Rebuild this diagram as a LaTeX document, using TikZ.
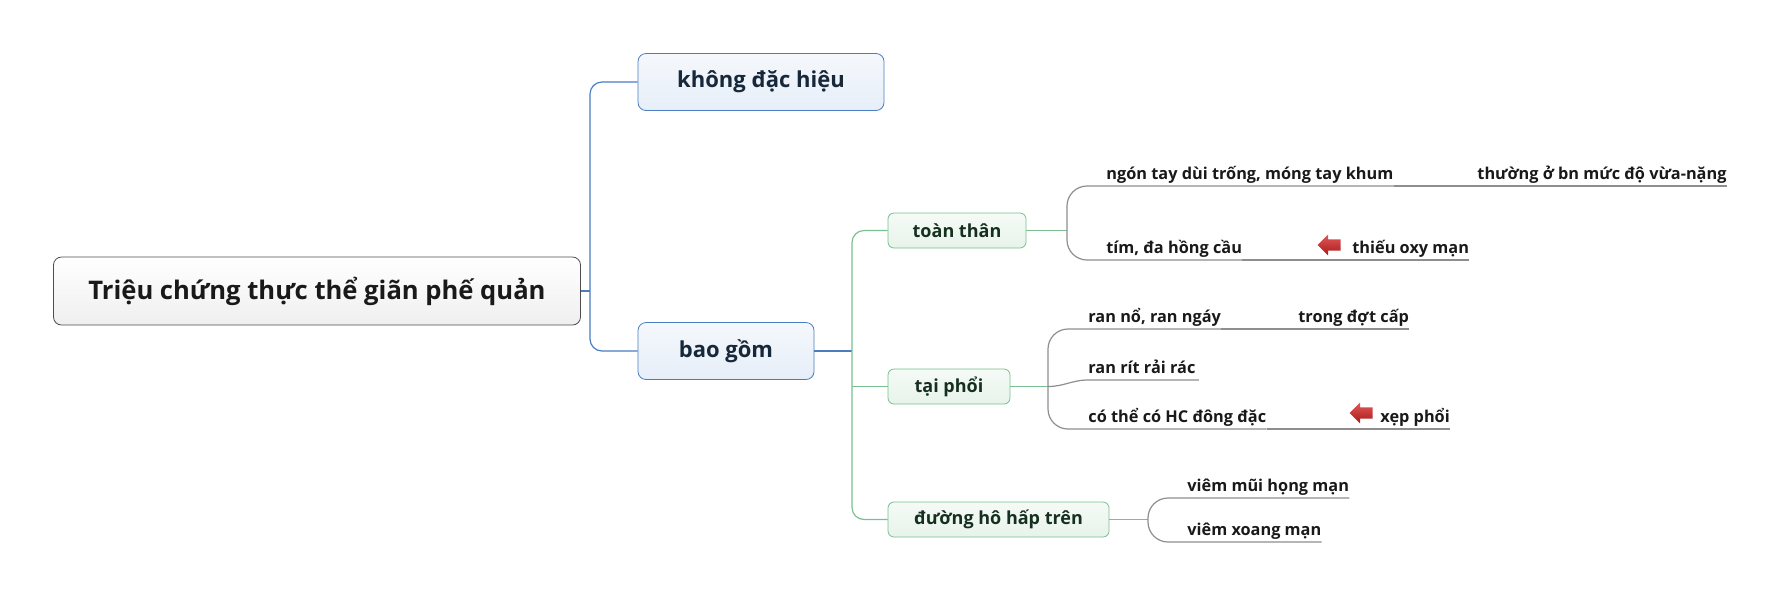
\documentclass[tikz,border=0pt]{standalone}
\usepackage{fontspec}
\setmainfont{Open Sans}
\usetikzlibrary{shapes.arrows}

\definecolor{rootline}{HTML}{4D4D4D}
\definecolor{rootfill}{HTML}{EFEFEF}
\definecolor{blueline}{HTML}{4A7DC0}
\definecolor{bluefill}{HTML}{E6EEF8}
\definecolor{bluetext}{HTML}{17283A}
\definecolor{greenline}{HTML}{78C08F}
\definecolor{greenfill}{HTML}{E7F3EA}
\definecolor{greentext}{HTML}{16301F}
\definecolor{greyline}{HTML}{8E8E8E}
\definecolor{warnred}{HTML}{D62020}

\begin{document}
\begin{tikzpicture}[x=0.5pt,y=-0.5pt,
  rootbox/.style={draw=rootline, rounded corners=4pt, top color=white, bottom color=rootfill,
    minimum height=34pt, text=black!90, font=\fontsize{12.8}{15}\selectfont\bfseries},
  mainbox/.style={draw=blueline, rounded corners=4pt, top color=bluefill!40, bottom color=bluefill,
    minimum height=28.5pt, text=bluetext, font=\fontsize{11}{13}\selectfont\bfseries},
  subbox/.style={draw=greenline, rounded corners=3pt, top color=greenfill!40, bottom color=greenfill,
    minimum height=17.5pt, text=greentext, font=\fontsize{9}{11}\selectfont\bfseries},
  leaf/.style={anchor=south west, inner xsep=0pt, inner ysep=3pt, text depth=0pt,
    text=black!90, font=\fontsize{8.15}{10}\selectfont\bfseries},
  warn/.style={single arrow, shape border rotate=180, draw=none, inner xsep=0pt, inner ysep=2.6pt,
    minimum height=11.5pt, single arrow head extend=2.4pt,
    top color=warnred!75, bottom color=warnred!80!black},
  mainline/.style={draw=blueline, line width=0.6pt},
  subline/.style={draw=greenline, line width=0.6pt},
  leafline/.style={draw=greyline, line width=0.6pt}]
  \useasboundingbox (0,0) rectangle (1786,596);

  \node[rootbox, minimum width=263.5pt] (root) at (317,291) {Triệu chứng thực thể giãn phế quản};
  \node[mainbox, minimum width=123pt] (khong) at (761,82) {không đặc hiệu};
  \node[mainbox, minimum width=88pt] (bao) at (726,351) {bao gồm};

  \node[subbox, minimum width=69pt] (toan) at (957,230.5) {toàn thân};
  \node[subbox, minimum width=61pt] (taiphoi) at (949,386.5) {tại phổi};
  \node[subbox, minimum width=110.5pt] (duong) at (998.5,519.5) {đường hô hấp trên};

  \node[leaf] (ngon) at (1106,186) {ngón tay dùi trống, móng tay khum};
  \node[leaf] (thuong) at (1477,186) {thường ở bn mức độ vừa-nặng};
  \node[leaf] (tim) at (1106,260) {tím, đa hồng cầu};
  \node[warn] (warn1) at (1332,245) {};
  \node[leaf] (thieu) at (1352,260) {thiếu oxy mạn};

  \node[leaf] (rano) at (1088,329) {ran nổ, ran ngáy};
  \node[leaf] (trong) at (1298,329) {trong đợt cấp};
  \node[leaf] (ranrit) at (1088,380) {ran rít rải rác};
  \node[leaf] (cothe) at (1088,429) {có thể có HC đông đặc};
  \node[warn] (warn2) at (1364,413) {};
  \node[leaf] (xep) at (1380,429) {xẹp phổi};

  \node[leaf] (viemmui) at (1187,498) {viêm mũi họng mạn};
  \node[leaf] (viemxoang) at (1187,542) {viêm xoang mạn};

  \coordinate (rootj) at (590,291);
  \coordinate (baoj) at (852,351);
  \coordinate (toanj) at (1067,230.5);
  \coordinate (taij) at (1048,386.5);
  \coordinate (duongj) at (1148,519.5);

  \draw[mainline] (root.east) -- (rootj);
  \draw[mainline, rounded corners=6pt] (khong.west) -| (rootj |- bao.west) -- (bao.west);

  \draw[mainline] (bao.east) -- (baoj);
  \draw[subline, rounded corners=6pt] (toan.west) -| (baoj |- duong.west) -- (duong.west);
  \draw[subline] (baoj |- taiphoi.west) -- (taiphoi.west);

  \draw[subline] (toan.east) -- (toanj);
  \draw[leafline, rounded corners=10pt] (ngon.south east) -- (ngon.south west) -| (toanj |- tim.south west) -- (tim.south east);
  \draw[leafline] (ngon.south east) -- (thuong.south west) -- (thuong.south east);
  \draw[leafline] (tim.south east) -- (thieu.south west) -- (thieu.south east);

  \draw[subline] (taiphoi.east) -- (taij);
  \draw[leafline, rounded corners=10pt] (rano.south east) -- (rano.south west) -| (taij |- cothe.south west) -- (cothe.south east);
  \draw[leafline] (taij) to[out=0,in=180] (ranrit.south west) -- ([xshift=1.5pt]ranrit.south east);
  \draw[leafline] (rano.south east) -- (trong.south west) -- (trong.south east);
  \draw[leafline] (cothe.south east) -- (xep.south west) -- (xep.south east);

  \draw[subline] (duong.east) -- (duongj);
  \draw[leafline, rounded corners=10pt] (viemmui.south east) -- (viemmui.south west) -| (duongj |- viemxoang.south west) -- (viemxoang.south east);
\end{tikzpicture}
\end{document}
